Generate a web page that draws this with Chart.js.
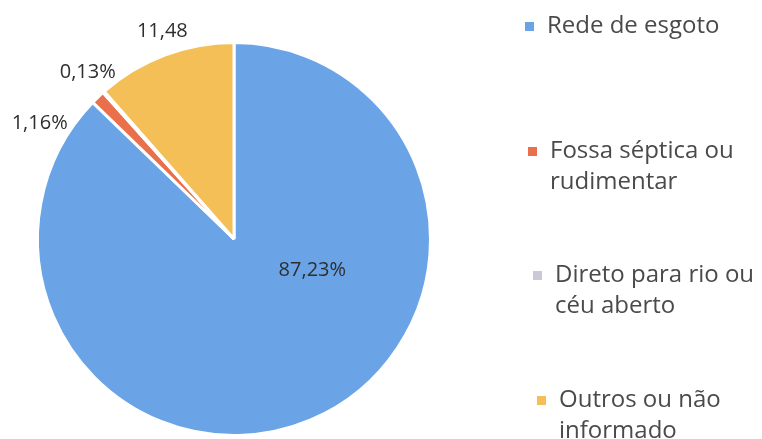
<!DOCTYPE html>
<html>
<head>
<meta charset="utf-8">
<script src="https://cdn.jsdelivr.net/npm/chart.js@4/dist/chart.umd.min.js"></script>
<style>
  html, body { margin: 0; padding: 0; background: #ffffff; }
  #wrap { position: relative; width: 762px; height: 439px; overflow: hidden; }
  #c { position: absolute; left: 0; top: 0; }
  #legend { position: absolute; left: 0; top: 0; width: 762px; height: 439px; font-family: "Open Sans", sans-serif; font-size: 24px; color: #4a4a4a; line-height: 31px; }
  .item { position: absolute; width: 240px; }
  .sw { position: absolute; left: 0; top: 14px; width: 9px; height: 9px; }
  .tx { position: absolute; left: 22px; top: 0; width: 215px; white-space: normal; }
</style>
</head>
<body>
<div id="wrap">
  <canvas id="c" width="762" height="439"></canvas>
  <div id="legend"></div>
</div>
<script>
// ---- data ----
const categories = ["Rede de esgoto", "Fossa séptica ou rudimentar", "Direto para rio ou céu aberto", "Outros ou não informado"];
const values = [87.23, 1.16, 0.13, 11.48];
const valueLabels = ["87,23%", "1,16%", "0,13%", "11,48"];
const colors = ["#6AA4E7", "#E9704B", "#CACAD6", "#F5BF57"];

// label placement (angle in degrees clockwise from top, distance as fraction of radius)
const labelPlacement = [
  { angle: 112, dist: 0.43 },
  { angle: 300.7, dist: 1.15 },
  { angle: 318.8, dist: 1.13 },
  { angle: 341, dist: 1.12 }
];

const labelPlugin = {
  id: 'sliceLabels',
  afterDatasetsDraw(chart) {
    const ctx = chart.ctx;
    const meta = chart.getDatasetMeta(0);
    ctx.save();
    ctx.font = '20px "Open Sans", sans-serif';
    ctx.fillStyle = '#2e2e2e';
    ctx.textAlign = 'center';
    ctx.textBaseline = 'middle';
    meta.data.forEach((arc, i) => {
      const p = labelPlacement[i];
      const a = p.angle * Math.PI / 180;
      const r = arc.outerRadius * p.dist;
      const x = arc.x + Math.sin(a) * r;
      const y = arc.y - Math.cos(a) * r;
      ctx.fillText(valueLabels[i], x, y);
    });
    ctx.restore();
  }
};

new Chart(document.getElementById('c'), {
  type: 'pie',
  data: {
    labels: categories,
    datasets: [{
      data: values,
      backgroundColor: colors,
      borderColor: '#ffffff',
      borderWidth: 3
    }]
  },
  options: {
    responsive: false,
    animation: false,
    layout: { padding: { left: 36, right: 330, top: 41, bottom: 2 } },
    plugins: {
      legend: { display: false },
      tooltip: { enabled: false }
    }
  },
  plugins: [labelPlugin]
});

// HTML legend
const legendLefts = [525, 528, 533, 537];
const legendTops = [8, 133, 257, 382];
const legend = document.getElementById('legend');
categories.forEach((cat, i) => {
  const item = document.createElement('div');
  item.className = 'item';
  item.style.left = legendLefts[i] + 'px';
  item.style.top = legendTops[i] + 'px';
  const sw = document.createElement('div');
  sw.className = 'sw';
  sw.style.background = colors[i];
  const tx = document.createElement('div');
  tx.className = 'tx';
  tx.textContent = cat;
  item.appendChild(sw);
  item.appendChild(tx);
  legend.appendChild(item);
});
</script>
</body>
</html>
